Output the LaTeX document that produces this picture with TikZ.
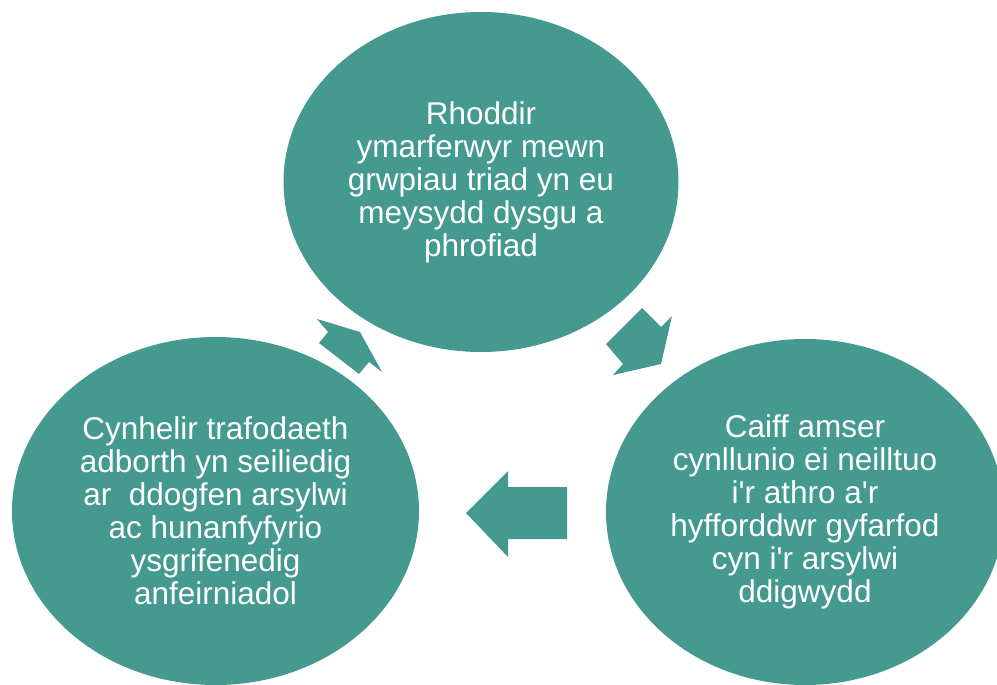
\documentclass[tikz,border=0pt]{standalone}
\usepackage{fontspec}
\setmainfont{Liberation Sans}
\usetikzlibrary{shapes.geometric}
\definecolor{tealfill}{HTML}{449A8F}
\newcommand{\aq}{\textquotesingle}
\begin{document}
\begin{tikzpicture}[x=1pt,y=-1pt,
  bubble/.style={ellipse, fill=tealfill, text=white, inner sep=0pt, align=center,
    font=\fontsize{31.5}{33}\selectfont},
  blockarrow/.style={fill=tealfill}]
\useasboundingbox (0,0) rectangle (997,685);
% block arrows
\fill[blockarrow] (606,344) -- (642,308) -- (661,327) -- (672,316) -- (661,364) -- (613,375) -- (623,364) -- cycle;
\fill[blockarrow] (466,513) -- (508,471) -- (508,487) -- (567,487) -- (567,539) -- (508,539) -- (508,557) -- cycle;
\fill[blockarrow] (360,332) -- (382,372) -- (369,362) -- (359,374) -- (319,343) -- (328,332) -- (317,319) -- cycle;
% ellipses
\node[bubble, minimum width=395pt, minimum height=340pt] (top) at (481,182)
  {Rhoddir\\ymarferwyr mewn\\grwpiau triad yn eu\\meysydd dysgu a\\phrofiad};
\node[bubble, minimum width=407pt, minimum height=348pt] (left) at (215.5,511)
  {Cynhelir trafodaeth\\adborth yn seiliedig\\ar\ \ ddogfen arsylwi\\ac hunanfyfyrio\\ysgrifenedig\\anfeirniadol};
\node[bubble, minimum width=398pt, minimum height=346pt] (right) at (805,512)
  {Caiff amser\\cynllunio ei neilltuo\\i\aq r athro a\aq r\\hyfforddwr gyfarfod\\cyn i\aq r arsylwi\\ddigwydd};
\end{tikzpicture}
\end{document}
